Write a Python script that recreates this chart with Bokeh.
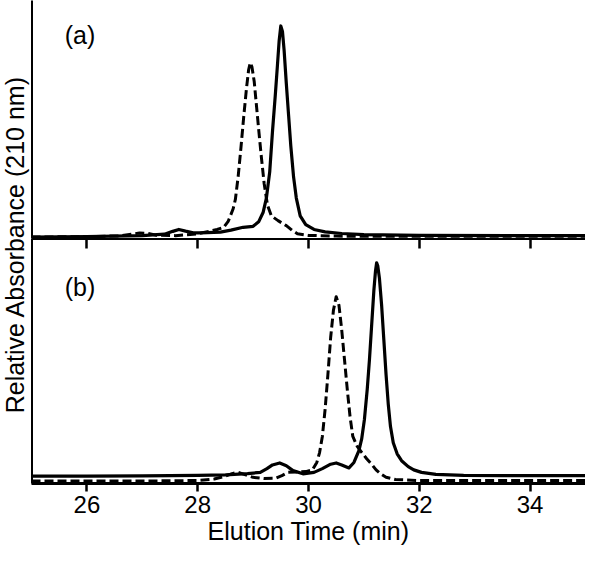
import math
from bokeh.plotting import figure
from bokeh.layouts import row, column
from bokeh.models import Range1d, FixedTicker, LinearAxis, Label
from bokeh.embed import file_html
from bokeh.resources import INLINE

FONT = "Liberation Sans"

# ---------------- data ----------------
x_ticks = [26, 28, 30, 32, 34]
x_start, x_end = 25, 35
panel_labels = ["(a)", "(b)"]
x_title = "Elution Time (min)"
y_title = "Relative Absorbance (210 nm)"

# panel (a), solid trace
a_solid_t = [25.0, 26.0, 27.0, 27.4, 27.55, 27.66, 27.78, 27.92, 28.05, 28.41, 28.6, 28.82,
             29.0, 29.1, 29.18, 29.24, 29.30, 29.35, 29.40, 29.44, 29.47, 29.50, 29.53,
             29.56, 29.60, 29.64, 29.68, 29.73, 29.78, 29.85, 29.95, 30.1, 30.3, 30.6,
             31.0, 32.0, 35.0]
a_solid_v = [0.006, 0.008, 0.012, 0.018, 0.030, 0.038, 0.031, 0.024, 0.024, 0.027, 0.035, 0.047,
             0.051, 0.070, 0.109, 0.17, 0.28, 0.45, 0.60, 0.73, 0.83, 0.893, 0.87,
             0.79, 0.65, 0.52, 0.39, 0.26, 0.17, 0.095, 0.058, 0.038, 0.028, 0.021,
             0.016, 0.013, 0.012]

# panel (a), dashed trace
a_dash_t = [25.0, 26.0, 26.6, 26.8, 26.95, 27.1, 27.25, 27.6, 28.0, 28.2, 28.35, 28.47,
            28.55, 28.59, 28.64, 28.68, 28.73, 28.78, 28.83, 28.88, 28.92, 28.95, 28.98,
            29.02, 29.06, 29.10, 29.15, 29.20, 29.26, 29.33, 29.45, 29.6, 29.7, 29.8,
            30.0, 30.5, 31.0, 35.0]
a_dash_v = [0.006, 0.008, 0.011, 0.018, 0.023, 0.022, 0.014, 0.012, 0.020, 0.030, 0.038, 0.047,
            0.072, 0.095, 0.125, 0.164, 0.26, 0.38, 0.51, 0.63, 0.71, 0.739, 0.72,
            0.66, 0.56, 0.46, 0.34, 0.23, 0.14, 0.095, 0.075, 0.054, 0.035, 0.020,
            0.013, 0.010, 0.009, 0.009]

# panel (b), solid trace
b_solid_t = [25.0, 26.0, 27.0, 28.0, 28.5, 28.9, 29.13, 29.25, 29.35, 29.48, 29.6, 29.72,
             29.9, 30.1, 30.25, 30.4, 30.5, 30.6, 30.73, 30.82, 30.91, 30.96, 31.01, 31.06,
             31.10, 31.14, 31.18, 31.21, 31.23, 31.25, 31.28, 31.32, 31.36, 31.40, 31.44,
             31.48, 31.53, 31.60, 31.68, 31.8, 31.9, 32.04, 32.3, 32.8, 33.5, 35.0]
b_solid_v = [0.030, 0.030, 0.031, 0.033, 0.035, 0.040, 0.045, 0.060, 0.075, 0.083, 0.072, 0.052,
             0.039, 0.045, 0.060, 0.078, 0.083, 0.075, 0.063, 0.085, 0.133, 0.18, 0.26, 0.38,
             0.50, 0.64, 0.78, 0.86, 0.892, 0.88, 0.83, 0.72, 0.58, 0.44, 0.32,
             0.23, 0.165, 0.12, 0.092, 0.068, 0.055, 0.045, 0.037, 0.033, 0.032, 0.032]

# panel (b), dashed trace
b_dash_t = [25.0, 26.0, 27.0, 28.0, 28.3, 28.5, 28.62, 28.73, 28.85, 29.0, 29.2, 29.4,
            29.52, 29.63, 29.8, 29.95, 30.07, 30.15, 30.20, 30.25, 30.30, 30.35, 30.40,
            30.45, 30.50, 30.55, 30.60, 30.65, 30.70, 30.75, 30.80, 30.88, 30.96, 31.05,
            31.15, 31.22, 31.30, 31.40, 31.57, 32.0, 35.0]
b_dash_v = [0.010, 0.010, 0.010, 0.012, 0.018, 0.030, 0.040, 0.045, 0.036, 0.025, 0.020, 0.021,
            0.032, 0.045, 0.047, 0.048, 0.055, 0.085, 0.125, 0.19, 0.30, 0.44, 0.59,
            0.70, 0.755, 0.72, 0.62, 0.50, 0.38, 0.27, 0.19, 0.15, 0.126, 0.10,
            0.075, 0.055, 0.039, 0.025, 0.016, 0.012, 0.012]

# ---------------- layout ----------------
W_LABEL = 31
W_MAIN = 554
H_TOP = 238
H_BOT = 309

xr = Range1d(x_start, x_end)


def make_fig(height, y_end, x_loc):
    f = figure(width=W_MAIN, height=height, x_range=xr, y_range=Range1d(0, y_end),
               output_backend="svg", toolbar_location=None,
               x_axis_location=x_loc, y_axis_location="left",
               min_border_left=0, min_border_right=0, min_border_top=0, min_border_bottom=0)
    f.outline_line_color = None
    f.xgrid.visible = False
    f.ygrid.visible = False
    f.background_fill_color = "white"
    f.border_fill_color = "white"
    f.yaxis.ticker = FixedTicker(ticks=[])
    f.yaxis.axis_line_width = 3
    f.yaxis.axis_line_color = "black"
    f.yaxis.major_tick_out = 0
    f.yaxis.major_tick_in = 0
    f.yaxis.minor_tick_out = 0
    f.yaxis.major_label_standoff = 0
    return f


top = make_fig(H_TOP, 1.0, None)
bot = make_fig(H_BOT, 0.99, "below")

xa = bot.below[0]

# middle divider axis (ticks pointing down into panel b)
mid = LinearAxis(ticker=FixedTicker(ticks=x_ticks),
                 major_label_overrides={t: "" for t in x_ticks})
mid.axis_line_width = 3
mid.axis_line_color = "black"
mid.major_tick_in = 10
mid.major_tick_out = 0
mid.minor_tick_in = 0
mid.minor_tick_out = 0
mid.major_tick_line_width = 2.5
mid.major_label_standoff = 0
bot.add_layout(mid, "above")

xa.ticker = FixedTicker(ticks=x_ticks)
xa.axis_line_width = 3
xa.axis_line_color = "black"
xa.major_tick_out = 8
xa.major_tick_in = 0
xa.minor_tick_out = 0
xa.major_tick_line_width = 2.5
xa.major_label_standoff = 4
xa.major_label_text_font = FONT
xa.major_label_text_font_size = "24px"
xa.major_label_text_color = "black"
xa.axis_label = x_title
xa.axis_label_text_font = FONT
xa.axis_label_text_font_size = "25px"
xa.axis_label_text_font_style = "normal"
xa.axis_label_text_color = "black"
xa.axis_label_standoff = 1

for f, st, sv, dt, dv in [(top, a_solid_t, a_solid_v, a_dash_t, a_dash_v),
                          (bot, b_solid_t, b_solid_v, b_dash_t, b_dash_v)]:
    f.line(dt, dv, line_color="black", line_width=3, line_dash="9 4", line_join="round")
    f.line(st, sv, line_color="black", line_width=3.2, line_join="round")

top.add_layout(Label(x=25.6, y=0.915, text=panel_labels[0], text_baseline="top",
                     text_font=FONT, text_font_size="25px", text_color="black"))
bot.add_layout(Label(x=25.6, y=0.852, text=panel_labels[1], text_baseline="top",
                     text_font=FONT, text_font_size="25px", text_color="black"))

lab = figure(width=W_LABEL, height=H_TOP + H_BOT, x_range=Range1d(0, 1), y_range=Range1d(0, 1),
             output_backend="svg", toolbar_location=None,
             x_axis_location=None, y_axis_location=None,
             min_border_left=0, min_border_right=0, min_border_top=0, min_border_bottom=0)
lab.outline_line_color = None
lab.xgrid.visible = False
lab.ygrid.visible = False
lab.add_layout(Label(x=0.48, y=0.554, text=y_title, angle=math.pi / 2,
                     text_align="center", text_baseline="middle",
                     text_font=FONT, text_font_size="25px", text_color="black"))

layout = row(lab, column(top, bot))

open("out.html", "w").write(file_html(layout, INLINE))
